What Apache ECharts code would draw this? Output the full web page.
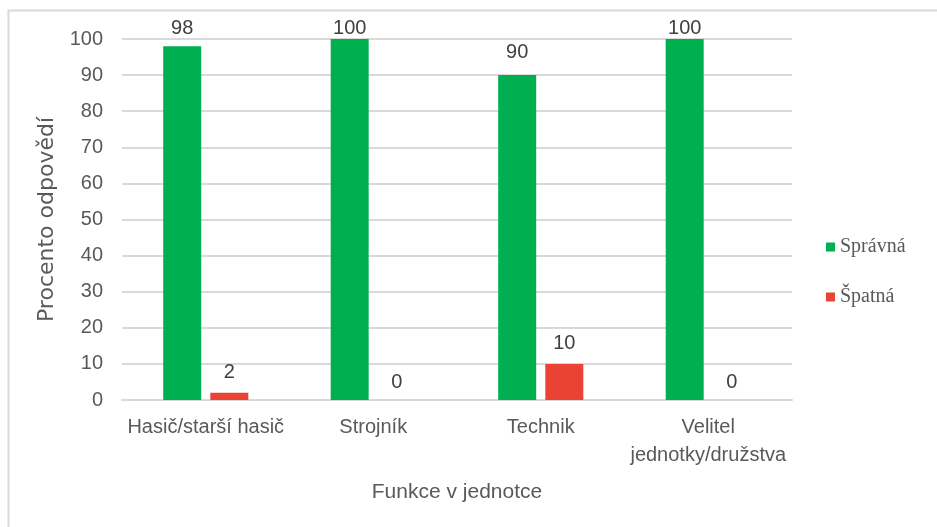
<!DOCTYPE html>
<html><head><meta charset="utf-8">
<script src="https://cdn.jsdelivr.net/npm/echarts@6/dist/echarts.min.js"></script>
<style>html,body{margin:0;padding:0;background:#fff}#c{width:937px;height:527px}</style>
</head><body><div id="c"></div>
<script>
const categories = ['Hasič/starší hasič', 'Strojník', 'Technik', 'Velitel\njednotky/družstva'];
const spravna = [98, 100, 90, 100];
const spatna = [2, 0, 10, 0];
const yTicks = [0, 10, 20, 30, 40, 50, 60, 70, 80, 90, 100];

const font = '"Liberation Sans", Arial, sans-serif';
// labels near the top are clamped to the chart area like in the original
function withLabels(values, dist) {
  return values.map(v => {
    if (v >= 98) return {value: v, label: {distance: v >= 100 ? 1 : 8}};
    return {value: v, label: {distance: v === 0 ? dist - 2 : dist}};
  });
}
const chart = echarts.init(document.getElementById('c'));
chart.setOption({
  animation: false,
  graphic: [{type: 'rect', shape: {x: 8.5, y: 10.5, width: 940, height: 530}, style: {fill: 'none', stroke: '#d9d9d9', lineWidth: 2}}],
  grid: {left: 122, right: 145, top: 39, bottom: 127},
  legend: {
    orient: 'vertical', left: 821, top: 232, itemGap: 30, itemWidth: 9, itemHeight: 9,
    icon: 'rect',
    textStyle: {fontFamily: '"Liberation Serif", "Times New Roman", serif', fontSize: 20, color: '#595959'},
    data: ['Správná', 'Špatná']
  },
  xAxis: {
    type: 'category', data: categories,
    name: 'Funkce v jednotce', nameLocation: 'middle', nameGap: 82,
    nameTextStyle: {fontFamily: font, fontSize: 21, color: '#595959'},
    axisLine: {lineStyle: {color: '#d9d9d9', width: 2}},
    axisTick: {show: false},
    axisLabel: {fontFamily: font, fontSize: 20, color: '#595959', margin: 13, lineHeight: 28, interval: 0}
  },
  yAxis: {
    type: 'value', min: 0, max: 100, interval: 10,
    name: 'Procento odpovědí', nameLocation: 'middle', nameGap: 54,
    nameTextStyle: {fontFamily: '"DejaVu Sans", sans-serif', fontSize: 22, color: '#595959'},
    axisLine: {show: false}, axisTick: {show: false},
    splitLine: {lineStyle: {color: '#d9d9d9', width: 2}},
    axisLabel: {fontFamily: font, fontSize: 20, color: '#595959', margin: 19,
      formatter: v => yTicks.includes(v) ? String(v) : ''}
  },
  series: [
    {name: 'Správná', type: 'bar', data: withLabels(spravna, 13), barWidth: 38, barGap: '24%',
     itemStyle: {color: '#00B050'},
     label: {show: true, position: 'top', fontFamily: font, fontSize: 20, color: '#404040'}},
    {name: 'Špatná', type: 'bar', data: withLabels(spatna, 10), barWidth: 38,
     itemStyle: {color: '#EA4335'},
     label: {show: true, position: 'top', fontFamily: font, fontSize: 20, color: '#404040'}}
  ]
});
</script></body></html>
